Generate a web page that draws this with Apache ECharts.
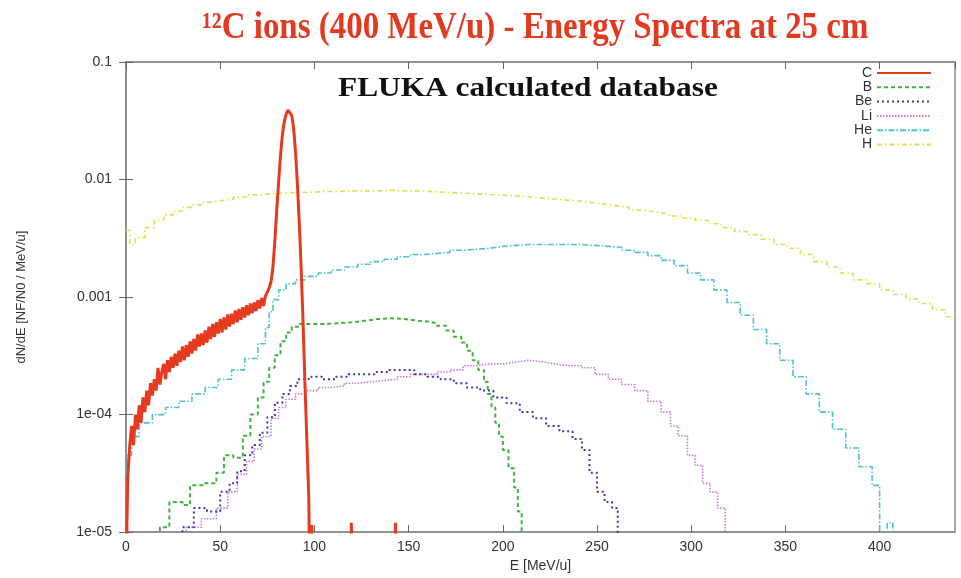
<!DOCTYPE html>
<html><head><meta charset="utf-8">
<script src="https://cdn.jsdelivr.net/npm/echarts@6/dist/echarts.min.js"></script>
<style>html,body{margin:0;padding:0;background:#fff}#c{width:961px;height:578px}</style>
</head><body><div id="c"></div>
<script>
// ---- data ----
const seriesNames = ['C', 'B', 'Be', 'Li', 'He', 'H'];
const xTickValues = [0, 50, 100, 150, 200, 250, 300, 350, 400];
const yTickValues = [0.1, 0.01, 0.001, 1e-4, 1e-5];
const yTickLabels = ['0.1', '0.01', '0.001', '1e-04', '1e-05'];

// C (primary carbon) – energy [MeV/u] and dN/dE
const cE = [0, 0.5, 1, 2, 3, 4, 5, 6, 7, 8,
  9, 10, 11, 12, 13, 14, 15, 16, 17, 18,
  19, 20, 21, 22, 23, 24, 25, 26, 27, 28,
  29, 30, 31, 32, 33, 34, 35, 36, 37, 38,
  39, 40, 41, 42, 43, 44, 45, 46, 47, 48,
  49, 50, 51, 52, 53, 54, 55, 56, 57, 58,
  59, 60, 61, 62, 63, 64, 65, 66, 67, 68,
  69, 70, 71, 72, 73, 74, 75, 76, 77, 78,
  79, 80, 81, 82, 83, 84, 85, 86, 87, 88,
  89, 90, 91, 92, 93, 94, 95, 96, 97, 98,
  98.6, 99.6, 100.2, 119.4, 119.6, 120.6, 120.8, 142.8, 143.0, 144.0, 144.2];
const cV = [1e-6, 1.2e-5, 3e-5, 5.5e-5, 8e-5, 5.5e-5, 1e-4, 7.5e-5, 1.2e-4, 8.5e-5,
  1.4e-4, 1.05e-4, 1.6e-4, 1.2e-4, 1.85e-4, 1.45e-4, 2e-4, 1.6e-4, 2.5e-4, 1.8e-4,
  2.3e-4, 2.7e-4, 2e-4, 2.9e-4, 2.3e-4, 3.1e-4, 2.5e-4, 3.3e-4, 2.6e-4, 3.5e-4,
  2.8e-4, 3.8e-4, 2.9e-4, 3.9e-4, 3.1e-4, 4.2e-4, 3.3e-4, 4.4e-4, 3.5e-4, 4.8e-4,
  3.8e-4, 4.9e-4, 3.9e-4, 5.2e-4, 4.1e-4, 5.6e-4, 4.4e-4, 5.9e-4, 4.6e-4, 6.1e-4,
  4.9e-4, 6.5e-4, 5e-4, 6.7e-4, 5.3e-4, 7.1e-4, 5.6e-4, 7.2e-4, 5.9e-4, 7.7e-4,
  6.1e-4, 7.9e-4, 6.4e-4, 8.2e-4, 6.7e-4, 8.5e-4, 7e-4, 8.8e-4, 7.3e-4, 9e-4,
  7.6e-4, 9.4e-4, 8e-4, 9.8e-4, 8.4e-4, 1.02e-3, 1.1e-3, 1.2e-3, 1.35e-3, 1.8e-3,
  3e-3, 5.5e-3, 9.5e-3, 1.6e-2, 2.4e-2, 3.1e-2, 3.6e-2, 3.9e-2, 3.9e-2, 3.5e-2,
  2.7e-2, 1.7e-2, 9e-3, 4.2e-3, 1.7e-3, 6e-4, 1.8e-4, 6e-5, 2e-5, 1e-6,
  1.15e-5, 1.15e-5, 1e-6, 1e-6, 1.2e-5, 1.2e-5, 1e-6, 1e-6, 1.2e-5, 1.2e-5, 1e-6];

// B – histogram bin edges and contents
const bE = [14, 18, 23, 30, 34, 41, 48, 52, 57, 62,
  66, 70, 73, 76, 79, 82, 85, 88, 92, 99,
  106, 113, 120, 127, 134, 141, 148, 155, 160, 165,
  170, 174, 178, 181, 184, 187, 190, 192, 194, 196,
  198, 200, 203, 206, 208, 210];
const bV = [1e-6, 1.1e-5, 1.8e-5, 1.7e-5, 2.5e-5, 2.6e-5, 3.2e-5, 4.5e-5, 4.3e-5, 6.6e-5,
  1e-4, 1.4e-4, 1.9e-4, 2.5e-4, 3.2e-4, 4.2e-4, 5e-4, 5.6e-4, 5.9e-4, 5.9e-4,
  6e-4, 6.1e-4, 6.3e-4, 6.5e-4, 6.6e-4, 6.5e-4, 6.3e-4, 6.2e-4, 6e-4, 5.7e-4,
  5.2e-4, 4.6e-4, 4.1e-4, 3.5e-4, 2.9e-4, 2.4e-4, 1.9e-4, 1.5e-4, 1.15e-4, 8.5e-5,
  6.5e-5, 5e-5, 3.5e-5, 2.4e-5, 1.5e-5, 1e-6];

// Be
const beE = [26, 30, 36, 43, 50, 55, 59, 63, 67, 71,
  75, 79, 83, 87, 91, 97, 104, 111, 118, 125,
  132, 139, 146, 153, 160, 167, 174, 181, 188, 195,
  202, 209, 216, 223, 230, 237, 242, 246, 250, 254,
  258, 261];
const beV = [1e-6, 1.1e-5, 1.6e-5, 1.5e-5, 2.2e-5, 2.6e-5, 3.3e-5, 4.5e-5, 5.5e-5, 7e-5,
  9.5e-5, 1.26e-4, 1.5e-4, 1.75e-4, 2e-4, 2.1e-4, 2e-4, 2.1e-4, 2.2e-4, 2.2e-4,
  2.3e-4, 2.4e-4, 2.4e-4, 2.2e-4, 2.1e-4, 2e-4, 1.85e-4, 1.7e-4, 1.6e-4, 1.4e-4,
  1.25e-4, 1.05e-4, 9.3e-5, 8e-5, 7.2e-5, 6.2e-5, 5e-5, 3.2e-5, 2.2e-5, 1.8e-5,
  1.6e-5, 1e-6];

// Li
const liE = [28, 32, 40, 48, 54, 59, 64, 68, 72, 77,
  81, 85, 90, 95, 102, 109, 116, 123, 130, 137,
  144, 151, 158, 165, 172, 179, 186, 193, 200, 207,
  214, 221, 228, 235, 242, 249, 256, 263, 270, 277,
  284, 289, 293, 298, 302, 306, 310, 314, 318];
const liV = [1e-6, 1.1e-5, 1.3e-5, 1.6e-5, 2.2e-5, 3.1e-5, 4e-5, 5.1e-5, 6.5e-5, 9.3e-5,
  1.15e-4, 1.35e-4, 1.5e-4, 1.6e-4, 1.7e-4, 1.75e-4, 1.85e-4, 1.9e-4, 1.95e-4, 2e-4,
  2.1e-4, 2.2e-4, 2.2e-4, 2.3e-4, 2.4e-4, 2.6e-4, 2.7e-4, 2.7e-4, 2.8e-4, 2.9e-4,
  2.8e-4, 2.7e-4, 2.6e-4, 2.6e-4, 2.5e-4, 2.2e-4, 2e-4, 1.8e-4, 1.6e-4, 1.3e-4,
  1.05e-4, 8e-5, 6.6e-5, 4.5e-5, 3.7e-5, 2.6e-5, 2.2e-5, 1.6e-5, 1e-6];

// He
const heE = [0, 1, 3, 7, 14, 21, 28, 35, 42, 49,
  56, 63, 70, 74, 76, 78, 81, 85, 90, 95,
  102, 109, 116, 123, 130, 137, 144, 151, 158, 165,
  172, 179, 186, 193, 200, 207, 214, 221, 228, 235,
  242, 249, 256, 263, 270, 277, 284, 291, 298, 305,
  312, 319, 326, 333, 340, 347, 354, 361, 368, 375,
  382, 389, 396, 400, 404, 407];
const heV = [3e-5, 4.5e-5, 6.5e-5, 8.5e-5, 1e-4, 1.15e-4, 1.3e-4, 1.5e-4, 1.7e-4, 2e-4,
  2.4e-4, 3e-4, 4e-4, 5.5e-4, 7.5e-4, 9.5e-4, 1.15e-3, 1.3e-3, 1.4e-3, 1.5e-3,
  1.6e-3, 1.7e-3, 1.8e-3, 1.9e-3, 2e-3, 2.1e-3, 2.2e-3, 2.3e-3, 2.35e-3, 2.4e-3,
  2.5e-3, 2.55e-3, 2.6e-3, 2.7e-3, 2.75e-3, 2.8e-3, 2.8e-3, 2.8e-3, 2.8e-3, 2.8e-3,
  2.75e-3, 2.7e-3, 2.65e-3, 2.5e-3, 2.4e-3, 2.25e-3, 2.05e-3, 1.85e-3, 1.6e-3, 1.4e-3,
  1.15e-3, 9e-4, 7e-4, 5.3e-4, 4e-4, 2.9e-4, 2.1e-4, 1.5e-4, 1.05e-4, 7.5e-5,
  5.2e-5, 3.6e-5, 2.5e-5, 1e-6, 1.2e-5, 1e-6];

// H
const hE = [0, 2, 5, 10, 15, 20, 25, 30, 35, 40,
  45, 50, 57, 64, 71, 78, 85, 92, 99, 106,
  113, 120, 127, 134, 141, 148, 155, 162, 169, 176,
  183, 190, 197, 204, 211, 218, 225, 232, 239, 246,
  253, 260, 267, 274, 281, 288, 295, 302, 309, 316,
  323, 330, 337, 344, 351, 358, 365, 372, 379, 386,
  393, 400, 407, 414, 421, 428, 435, 442];
const hV = [3.7e-3, 2.8e-3, 3.2e-3, 3.9e-3, 4.5e-3, 5e-3, 5.4e-3, 5.8e-3, 6.1e-3, 6.4e-3,
  6.6e-3, 6.8e-3, 7.1e-3, 7.4e-3, 7.6e-3, 7.7e-3, 7.8e-3, 7.8e-3, 7.9e-3, 7.9e-3,
  8e-3, 8e-3, 8e-3, 8.1e-3, 8e-3, 8e-3, 7.9e-3, 7.8e-3, 7.7e-3, 7.6e-3,
  7.5e-3, 7.4e-3, 7.3e-3, 7.2e-3, 7e-3, 6.9e-3, 6.7e-3, 6.6e-3, 6.4e-3, 6.2e-3,
  6e-3, 5.8e-3, 5.5e-3, 5.3e-3, 5.1e-3, 4.9e-3, 4.7e-3, 4.5e-3, 4.2e-3, 3.9e-3,
  3.6e-3, 3.4e-3, 3.1e-3, 2.8e-3, 2.6e-3, 2.3e-3, 2e-3, 1.8e-3, 1.6e-3, 1.4e-3,
  1.3e-3, 1.15e-3, 1.05e-3, 9.6e-4, 8.8e-4, 7.8e-4, 6.8e-4, 6.6e-4];

// ---- chart ----
const pairs = (E, V) => E.map((e, i) => [e, V[i]]);
const SANS = 'Liberation Sans, Arial, sans-serif';
const SERIF = '"Liberation Serif", "Times New Roman", serif';

const chart = echarts.init(document.getElementById('c'), null, { renderer: 'canvas' });

function histSeries(name, E, V, color, width, dash) {
  return {
    name, type: 'line', step: 'end', data: pairs(E, V), symbol: 'none',
    lineStyle: { color, width, type: dash }, itemStyle: { color },
    emphasis: { disabled: true }
  };
}

const yLabel = v => {
  const k = Math.round(-Math.log10(v)) - 1;
  return yTickLabels[k] !== undefined ? yTickLabels[k] : '';
};
const xLabel = v => (xTickValues.indexOf(v) >= 0 ? String(v) : '');

const tickStyle = () => ({ inside: true, length: 7, lineStyle: { color: '#666', width: 1 } });
const frameLine = () => ({ lineStyle: { color: '#8c8c8c', width: 1.5 } });

chart.setOption({
  animation: false,
  backgroundColor: '#ffffff',
  graphic: [
    { type: 'text', x: 202, y: 28, scaleX: 0.89, silent: true,
      style: { text: '\u00b9\u00b2C ions (400 MeV/u) - Energy Spectra at 25 cm',
        font: 'bold 37px ' + SERIF, fill: '#e2391f', align: 'left', verticalAlign: 'middle' } },
    { type: 'text', x: 338, y: 89, scaleX: 1.12, silent: true,
      style: { text: 'FLUKA calculated database',
        font: 'bold 28px ' + SERIF, fill: '#111', align: 'left', verticalAlign: 'middle' } }
  ],
  legend: {
    data: seriesNames, orient: 'vertical', right: 24, top: 61, align: 'right',
    itemWidth: 54, itemHeight: 12, itemGap: 0.3,
    itemStyle: { opacity: 0 },
    textStyle: { fontFamily: SANS, fontSize: 14, color: '#333', lineHeight: 12 },
    selectedMode: false
  },
  grid: { left: 126, right: 6, top: 62, bottom: 40, show: true, borderColor: '#8c8c8c', borderWidth: 1.5 },
  xAxis: [
    { type: 'value', min: 0, max: 440, interval: 50,
      name: 'E [MeV/u]', nameLocation: 'middle', nameGap: 21,
      nameTextStyle: { fontFamily: SANS, fontSize: 14, color: '#333' },
      axisLine: frameLine(), axisTick: tickStyle(),
      axisLabel: { formatter: xLabel, fontFamily: SANS, fontSize: 14, color: '#333', margin: 8, showMaxLabel: false },
      splitLine: { show: false } },
    { type: 'value', position: 'top', min: 0, max: 440, interval: 50,
      axisLine: frameLine(), axisTick: tickStyle(),
      axisLabel: { show: false }, splitLine: { show: false } }
  ],
  yAxis: [
    { type: 'log', logBase: 10, min: 1e-5, max: 0.1, position: 'left',
      name: 'dN/dE [NF/N0 / MeV/u]', nameLocation: 'middle', nameGap: 98,
      nameTextStyle: { fontFamily: SANS, fontSize: 13, color: '#333' },
      axisLine: frameLine(), axisTick: tickStyle(),
      axisLabel: { formatter: yLabel, fontFamily: SANS, fontSize: 14, color: '#333', margin: 14 },
      splitLine: { show: false } },
    { type: 'log', logBase: 10, min: 1e-5, max: 0.1, position: 'right',
      axisLine: frameLine(), axisTick: tickStyle(),
      axisLabel: { show: false }, splitLine: { show: false } }
  ],
  series: [
    histSeries('H', hE, hV, '#e0e04a', 1.6, [5, 3, 1.5, 3]),
    histSeries('He', heE, heV, '#4cc2d2', 1.6, [6, 2, 1.5, 2]),
    histSeries('Li', liE, liV, '#c77ad8', 1.6, [1.5, 1.5]),
    histSeries('Be', beE, beV, '#3b3ba3', 2, [2, 3]),
    histSeries('B', bE, bV, '#3fb43f', 2, [4, 3]),
    { name: 'C', type: 'line', data: pairs(cE, cV), symbol: 'none', z: 5,
      lineStyle: { color: '#e63a1e', width: 3 }, itemStyle: { color: '#e63a1e' },
      emphasis: { disabled: true } }
  ]
});
</script>
</body></html>
